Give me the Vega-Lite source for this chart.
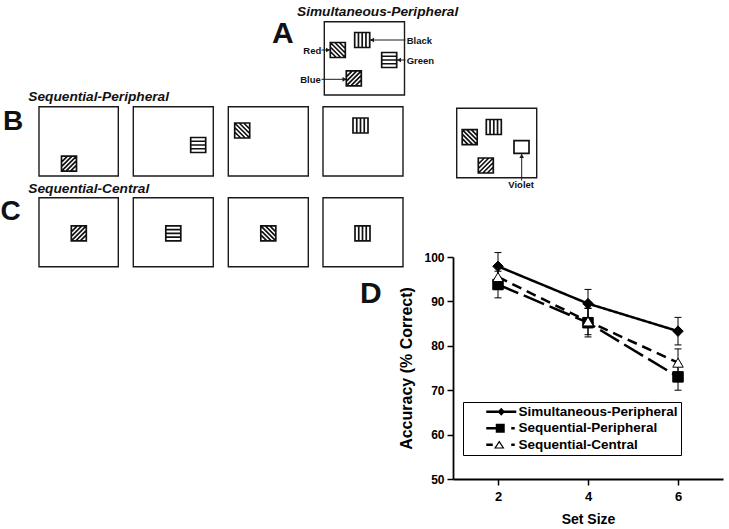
{
  "$schema": "https://vega.github.io/schema/vega-lite/v6.json",
  "width": 270,
  "height": 222,
  "autosize": {"type": "none"},
  "padding": {"left": 453, "top": 257, "right": 6, "bottom": 50},
  "background": "white",
  "config": {"view": {"stroke": null}, "font": "Liberation Sans"},
  "datasets": {
    "frames": [
      {"display": "A", "left": 324.3, "right": 404.5, "top": 21.7, "bottom": 95},
      {"display": "B1", "left": 39, "right": 118.3, "top": 106.7, "bottom": 176},
      {"display": "B2", "left": 133.3, "right": 213.3, "top": 106.7, "bottom": 176},
      {"display": "B3", "left": 228.3, "right": 308.3, "top": 106.7, "bottom": 176},
      {"display": "B4", "left": 323, "right": 403, "top": 106.7, "bottom": 176},
      {"display": "Test", "left": 456.7, "right": 536.7, "top": 108.3, "bottom": 177.7},
      {"display": "C1", "left": 39, "right": 118.3, "top": 197.7, "bottom": 266.7},
      {"display": "C2", "left": 133.3, "right": 213.3, "top": 197.7, "bottom": 266.7},
      {"display": "C3", "left": 228.3, "right": 308.3, "top": 197.7, "bottom": 266.7},
      {"display": "C4", "left": 323, "right": 403, "top": 197.7, "bottom": 266.7}
    ],
    "stimuli": [
      {"display": "A", "colour": "Red", "pattern": "diag_down", "px": 337.8, "py": 50},
      {"display": "A", "colour": "Black", "pattern": "vert", "px": 362.2, "py": 40},
      {"display": "A", "colour": "Green", "pattern": "horiz", "px": 389.2, "py": 60},
      {"display": "A", "colour": "Blue", "pattern": "diag_up", "px": 353.8, "py": 78.3},
      {"display": "B1", "colour": "Blue", "pattern": "diag_up", "px": 69, "py": 163.7},
      {"display": "B2", "colour": "Green", "pattern": "horiz", "px": 198.2, "py": 145},
      {"display": "B3", "colour": "Red", "pattern": "diag_down", "px": 242.2, "py": 130.5},
      {"display": "B4", "colour": "Black", "pattern": "vert", "px": 360.5, "py": 125.5},
      {"display": "Test", "colour": "Red", "pattern": "diag_down", "px": 469.7, "py": 137.2},
      {"display": "Test", "colour": "Black", "pattern": "vert", "px": 493.8, "py": 127},
      {"display": "Test", "colour": "Blue", "pattern": "diag_up", "px": 485.8, "py": 165.5},
      {"display": "Test", "colour": "Violet", "pattern": "empty", "px": 521.5, "py": 147},
      {"display": "C1", "colour": "Blue", "pattern": "diag_up", "px": 78.8, "py": 233.3},
      {"display": "C2", "colour": "Green", "pattern": "horiz", "px": 173.3, "py": 233.3},
      {"display": "C3", "colour": "Red", "pattern": "diag_down", "px": 268.3, "py": 233.3},
      {"display": "C4", "colour": "Black", "pattern": "vert", "px": 362.5, "py": 233.3}
    ],
    "arrows": [
      {"colour": "Red", "fromX": 321.5, "fromY": 50, "toX": 330, "toY": 50},
      {"colour": "Black", "fromX": 405.5, "fromY": 40, "toX": 370, "toY": 40},
      {"colour": "Green", "fromX": 405.5, "fromY": 60, "toX": 397, "toY": 60},
      {"colour": "Blue", "fromX": 321.5, "fromY": 79.3, "toX": 346.5, "toY": 79.3},
      {"colour": "Violet", "fromX": 521.7, "fromY": 180.5, "toX": 521.7, "toY": 154}
    ],
    "heads": [
      {"colour": "Red", "dir": "right", "px": 328, "py": 50},
      {"colour": "Black", "dir": "left", "px": 372, "py": 40},
      {"colour": "Green", "dir": "left", "px": 399, "py": 60},
      {"colour": "Blue", "dir": "right", "px": 344.5, "py": 79.3},
      {"colour": "Violet", "dir": "up", "px": 521.7, "py": 156}
    ],
    "texts": [
      {"kind": "letter30", "label": "A", "px": 272, "py": 43.3},
      {"kind": "letter28", "label": "B", "px": 3, "py": 130},
      {"kind": "letter28", "label": "C", "px": 0.5, "py": 219.8},
      {"kind": "letter30", "label": "D", "px": 360, "py": 303.3},
      {"kind": "title", "label": "Simultaneous-Peripheral", "px": 297, "py": 15.5},
      {"kind": "title", "label": "Sequential-Peripheral", "px": 28.3, "py": 101},
      {"kind": "title", "label": "Sequential-Central", "px": 28.3, "py": 192.5},
      {"kind": "colour", "label": "Red", "px": 303.3, "py": 53.5},
      {"kind": "colour", "label": "Blue", "px": 300.2, "py": 83.3},
      {"kind": "colour", "label": "Black", "px": 406.7, "py": 44.3},
      {"kind": "colour", "label": "Green", "px": 406.7, "py": 64},
      {"kind": "colour", "label": "Violet", "px": 508.3, "py": 187.5}
    ],
    "accuracy": [
      {"series": "Simultaneous-Peripheral", "setSize": 2, "acc": 97.9, "lo": 94.8, "hi": 101.0},
      {"series": "Simultaneous-Peripheral", "setSize": 4, "acc": 89.5, "lo": 86.3, "hi": 92.7},
      {"series": "Simultaneous-Peripheral", "setSize": 6, "acc": 83.3, "lo": 80.2, "hi": 86.4},
      {"series": "Sequential-Peripheral", "setSize": 2, "acc": 93.8, "lo": 90.8, "hi": 96.8},
      {"series": "Sequential-Peripheral", "setSize": 4, "acc": 85.2, "lo": 82.0, "hi": 88.4},
      {"series": "Sequential-Peripheral", "setSize": 6, "acc": 73.0, "lo": 70.0, "hi": 76.0},
      {"series": "Sequential-Central", "setSize": 2, "acc": 95.5, "lo": 92.7, "hi": 98.3},
      {"series": "Sequential-Central", "setSize": 4, "acc": 85.5, "lo": 82.5, "hi": 88.5},
      {"series": "Sequential-Central", "setSize": 6, "acc": 76.2, "lo": 73.1, "hi": 79.3}
    ]
  },
  "layer": [
    {
      "layer": [
        {
          "data": {"name": "frames"},
          "mark": {"type": "rect", "fill": "white", "stroke": "#1a1a1a", "strokeWidth": 1.4},
          "encoding": {
            "x": {"field": "left", "type": "quantitative", "scale": {"domain": [453, 723], "nice": false, "zero": false}, "axis": null},
            "x2": {"field": "right"},
            "y": {"field": "top", "type": "quantitative", "scale": {"domain": [257, 479], "nice": false, "zero": false, "reverse": true}, "axis": null},
            "y2": {"field": "bottom"}
          }
        },
        {
          "data": {"name": "arrows"},
          "mark": {"type": "rule", "color": "#1a1a1a", "strokeWidth": 1},
          "encoding": {
            "x": {"field": "fromX", "type": "quantitative", "scale": {"domain": [453, 723], "nice": false, "zero": false}, "axis": null},
            "x2": {"field": "toX"},
            "y": {"field": "fromY", "type": "quantitative", "scale": {"domain": [257, 479], "nice": false, "zero": false, "reverse": true}, "axis": null},
            "y2": {"field": "toY"}
          }
        },
        {
          "data": {"name": "heads"},
          "mark": {"type": "point", "filled": true, "color": "#1a1a1a", "size": 22, "opacity": 1},
          "encoding": {
            "x": {"field": "px", "type": "quantitative", "scale": {"domain": [453, 723], "nice": false, "zero": false}, "axis": null},
            "y": {"field": "py", "type": "quantitative", "scale": {"domain": [257, 479], "nice": false, "zero": false, "reverse": true}, "axis": null},
            "shape": {"field": "dir", "type": "nominal", "scale": {"domain": ["left", "right", "up"], "range": ["triangle-left", "triangle-right", "triangle-up"]}, "legend": null}
          }
        },
        {
          "data": {"name": "stimuli"},
          "mark": {"type": "point", "filled": true, "fill": "white", "stroke": "#111111", "strokeWidth": 1.7, "size": 225, "opacity": 1, "strokeOpacity": 1, "fillOpacity": 1},
          "encoding": {
            "x": {"field": "px", "type": "quantitative", "scale": {"domain": [453, 723], "nice": false, "zero": false}, "axis": null},
            "y": {"field": "py", "type": "quantitative", "scale": {"domain": [257, 479], "nice": false, "zero": false, "reverse": true}, "axis": null},
            "shape": {
              "field": "pattern", "type": "nominal", "legend": null,
              "scale": {
                "domain": ["diag_down", "diag_up", "horiz", "vert", "empty"],
                "range": [
                  "M-1,-1H1V1H-1ZM-1,-1L1,1M-1,-0.4L0.4,1M-1,0.2L-0.2,1M-0.4,-1L1,0.4M0.2,-1L1,-0.2",
                  "M-1,-1H1V1H-1ZM-1,1L1,-1M-0.4,1L1,-0.4M0.2,1L1,0.2M-1,0.4L0.4,-1M-1,-0.2L-0.2,-1",
                  "M-1,-1H1V1H-1ZM-1,-0.5H1M-1,0H1M-1,0.5H1",
                  "M-1,-1H1V1H-1ZM-0.5,-1V1M0,-1V1M0.5,-1V1",
                  "M-1,-0.85H1V0.85H-1Z"
                ]
              }
            }
          }
        },
        {
          "data": {"name": "texts"},
          "transform": [{"filter": "datum.kind === 'letter30'"}],
          "mark": {"type": "text", "font": "Liberation Sans", "fontWeight": "bold", "fontSize": 30, "align": "left", "baseline": "alphabetic", "color": "#111111"},
          "encoding": {
            "x": {"field": "px", "type": "quantitative", "scale": {"domain": [453, 723], "nice": false, "zero": false}, "axis": null},
            "y": {"field": "py", "type": "quantitative", "scale": {"domain": [257, 479], "nice": false, "zero": false, "reverse": true}, "axis": null},
            "text": {"field": "label"}
          }
        },
        {
          "data": {"name": "texts"},
          "transform": [{"filter": "datum.kind === 'letter28'"}],
          "mark": {"type": "text", "font": "Liberation Sans", "fontWeight": "bold", "fontSize": 28, "align": "left", "baseline": "alphabetic", "color": "#111111"},
          "encoding": {
            "x": {"field": "px", "type": "quantitative", "scale": {"domain": [453, 723], "nice": false, "zero": false}, "axis": null},
            "y": {"field": "py", "type": "quantitative", "scale": {"domain": [257, 479], "nice": false, "zero": false, "reverse": true}, "axis": null},
            "text": {"field": "label"}
          }
        },
        {
          "data": {"name": "texts"},
          "transform": [{"filter": "datum.kind === 'title'"}],
          "mark": {"type": "text", "font": "Liberation Sans", "fontWeight": "bold", "fontStyle": "italic", "fontSize": 13.7, "align": "left", "baseline": "alphabetic", "color": "#111111"},
          "encoding": {
            "x": {"field": "px", "type": "quantitative", "scale": {"domain": [453, 723], "nice": false, "zero": false}, "axis": null},
            "y": {"field": "py", "type": "quantitative", "scale": {"domain": [257, 479], "nice": false, "zero": false, "reverse": true}, "axis": null},
            "text": {"field": "label"}
          }
        },
        {
          "data": {"name": "texts"},
          "transform": [{"filter": "datum.kind === 'colour'"}],
          "mark": {"type": "text", "font": "Liberation Sans", "fontWeight": "bold", "fontSize": 9.5, "align": "left", "baseline": "alphabetic", "color": "#111111"},
          "encoding": {
            "x": {"field": "px", "type": "quantitative", "scale": {"domain": [453, 723], "nice": false, "zero": false}, "axis": null},
            "y": {"field": "py", "type": "quantitative", "scale": {"domain": [257, 479], "nice": false, "zero": false, "reverse": true}, "axis": null},
            "text": {"field": "label"}
          }
        }
      ],
      "resolve": {"scale": {"shape": "independent"}}
    },
    {
      "data": {"name": "accuracy"},
      "encoding": {
        "x": {
          "field": "setSize", "type": "quantitative",
          "scale": {"domain": [1, 7], "nice": false, "zero": false},
          "axis": {
            "orient": "bottom", "values": [2, 4, 6], "title": "Set Size", "grid": false,
            "domainColor": "black", "domainWidth": 1.8, "tickColor": "black", "tickWidth": 1.5, "tickSize": 6,
            "labelFont": "Liberation Sans", "labelFontSize": 13, "labelFontWeight": "bold", "labelColor": "black", "labelPadding": 5, "labelFlush": false,
            "titleFont": "Liberation Sans", "titleFontSize": 14, "titleFontWeight": "bold", "titleColor": "black", "titlePadding": 9
          }
        }
      },
      "layer": [
        {
          "mark": {"type": "line", "color": "black", "strokeWidth": 2.5},
          "encoding": {
            "y": {
              "field": "acc", "type": "quantitative",
              "scale": {"domain": [50, 100], "nice": false, "zero": false},
              "axis": {
                "orient": "left", "values": [50, 60, 70, 80, 90, 100], "title": "Accuracy (% Correct)", "grid": false,
                "domainColor": "black", "domainWidth": 1.8, "tickColor": "black", "tickWidth": 1.5, "tickSize": 6,
                "labelFont": "Liberation Sans", "labelFontSize": 12, "labelFontWeight": "bold", "labelColor": "black", "labelPadding": 3,
                "titleFont": "Liberation Sans", "titleFontSize": 16, "titleFontWeight": "bold", "titleColor": "black", "titlePadding": 9
              }
            },
            "strokeDash": {
              "field": "series", "type": "nominal", "legend": null,
              "scale": {"domain": ["Simultaneous-Peripheral", "Sequential-Peripheral", "Sequential-Central"], "range": [[1, 0], [22, 6], [10, 6]]}
            }
          }
        },
        {
          "mark": {"type": "rule", "color": "black", "strokeWidth": 1},
          "encoding": {
            "y": {"field": "lo", "type": "quantitative"},
            "y2": {"field": "hi"}
          }
        },
        {
          "mark": {"type": "tick", "orient": "horizontal", "color": "black", "thickness": 1, "size": 7, "opacity": 1},
          "encoding": {"y": {"field": "lo", "type": "quantitative"}}
        },
        {
          "mark": {"type": "tick", "orient": "horizontal", "color": "black", "thickness": 1, "size": 7, "opacity": 1},
          "encoding": {"y": {"field": "hi", "type": "quantitative"}}
        },
        {
          "mark": {"type": "point", "filled": true, "stroke": "black", "strokeWidth": 1, "size": 110, "opacity": 1, "fillOpacity": 1},
          "encoding": {
            "y": {"field": "acc", "type": "quantitative"},
            "fill": {
              "field": "series", "type": "nominal", "legend": null,
              "scale": {"domain": ["Simultaneous-Peripheral", "Sequential-Peripheral", "Sequential-Central"], "range": ["black", "black", "white"]}
            },
            "shape": {
              "field": "series", "type": "nominal", "legend": null,
              "scale": {"domain": ["Simultaneous-Peripheral", "Sequential-Peripheral", "Sequential-Central"], "range": ["diamond", "square", "triangle-up"]}
            }
          }
        },
        {
          "mark": {"type": "point", "filled": true, "color": "black", "opacity": 0, "size": 100},
          "encoding": {
            "y": {"field": "acc", "type": "quantitative"},
            "shape": {
              "field": "series", "type": "nominal",
              "scale": {
                "domain": ["Simultaneous-Peripheral", "Sequential-Peripheral", "Sequential-Central"],
                "range": [
                  "M-3,-0.25H3V0.25H-3ZM0,-0.8L0.75,0L0,0.8L-0.75,0Z",
                  "M-3,-0.25H-1.1V0.25H-3ZM-1.1,-0.9H0.7V0.9H-1.1ZM2,-0.25H2.7V0.25H2Z",
                  "M-3,-0.25H-1.7V0.25H-3ZM-0.4,-0.85L0.65,0.75H-1.45ZM-0.4,-0.42L-1.03,0.54H0.23ZM2,-0.25H2.7V0.25H2Z"
                ]
              },
              "legend": {
                "orient": "none", "legendX": 10, "legendY": 145, "title": null,
                "padding": 3, "strokeColor": "black", "fillColor": "white",
                "labelFont": "Liberation Sans", "labelFontSize": 13.5, "labelFontWeight": "bold", "labelColor": "black", "labelLimit": 400,
                "symbolSize": 100, "symbolStrokeWidth": 0, "symbolFillColor": "black", "symbolOpacity": 1,
                "symbolOffset": 28.5, "labelOffset": 10.5, "rowPadding": 1.5
              }
            }
          }
        }
      ],
      "resolve": {"scale": {"shape": "independent"}}
    }
  ],
  "resolve": {
    "scale": {"x": "independent", "y": "independent", "shape": "independent"},
    "axis": {"x": "independent", "y": "independent"}
  }
}
